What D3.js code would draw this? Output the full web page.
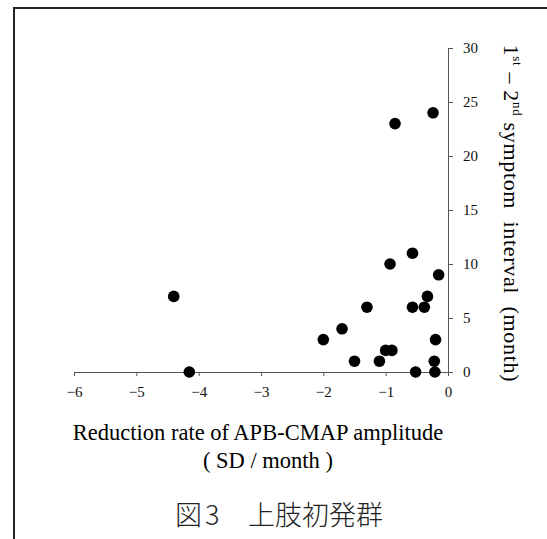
<!DOCTYPE html>
<html>
<head>
<meta charset="utf-8">
<script src="https://cdn.jsdelivr.net/npm/d3@7"></script>
<style>
  body { margin: 0; background: #fff; }
  svg { display: block; }
  .axis path, .axis line { stroke: #555; }
  .axis text { font-family: "Liberation Serif", "DejaVu Serif", serif; font-size: 15px; fill: #111; }
</style>
</head>
<body>
<div id="chart-area"></div>
<script>
// values
var rate = [-4.4, -4.15, -2.0, -1.7, -1.5, -1.3, -1.1, -1.0, -0.9, -0.93, -0.85, -0.57, -0.57, -0.38, -0.33, -0.15, -0.2, -0.22, -0.21, -0.52, -0.24];
var interval = [7, 0, 3, 4, 1, 6, 1, 2, 2, 10, 23, 11, 6, 6, 7, 9, 3, 1, 0, 0, 24];
var xTicks = [-6, -5, -4, -3, -2, -1, 0];
var yTicks = [0, 5, 10, 15, 20, 25, 30];

var width = 547, height = 539;
var svg = d3.select("#chart-area").append("svg")
    .attr("width", width)
    .attr("height", height);

// scanned frame (top + left edge)
svg.append("path")
    .attr("d", "M14,539 L14,8 L547,8")
    .attr("fill", "none")
    .attr("stroke", "#222")
    .attr("stroke-width", 2);

var x = d3.scaleLinear().domain([-6, 0]).range([74, 448]);
var y = d3.scaleLinear().domain([0, 30]).range([372, 48]);

svg.append("g")
    .attr("class", "axis")
    .attr("transform", "translate(0,372)")
    .call(d3.axisBottom(x).tickValues(xTicks).tickFormat(d3.format("d"))
        .tickSize(4).tickSizeOuter(0).tickPadding(10));

svg.append("g")
    .attr("class", "axis")
    .attr("transform", "translate(448,0)")
    .call(d3.axisRight(y).tickValues(yTicks).tickSize(5).tickSizeOuter(0).tickPadding(10));

var pts = rate.map(function(d, i) { return {x: d, y: interval[i]}; });
svg.selectAll("circle.pt")
    .data(pts)
    .enter().append("circle")
    .attr("class", "pt")
    .attr("cx", function(d) { return x(d.x); })
    .attr("cy", function(d) { return y(d.y); })
    .attr("r", 5.8)
    .attr("fill", "#000");

var serif = "'Liberation Serif', 'DejaVu Serif', serif";

svg.append("text")
    .attr("x", 258).attr("y", 440)
    .attr("text-anchor", "middle")
    .attr("font-family", serif).attr("font-size", "22.5px")
    .text("Reduction rate of APB-CMAP amplitude");

svg.append("text")
    .attr("x", 268).attr("y", 468)
    .attr("text-anchor", "middle")
    .attr("font-family", serif).attr("font-size", "22.5px")
    .text("( SD / month )");

// rotated y title
var yt = svg.append("text")
    .attr("transform", "translate(504,213) rotate(90)")
    .attr("text-anchor", "middle")
    .attr("textLength", 337)
    .attr("lengthAdjust", "spacing")
    .style("white-space", "pre")
    .attr("font-family", serif).attr("font-size", "22px");
yt.append("tspan").text("1");
yt.append("tspan").attr("font-size", "13px").attr("dy", -9).text("st");
yt.append("tspan").attr("dy", 9).text(" \u2013 2");
yt.append("tspan").attr("font-size", "13px").attr("dy", -9).text("nd");
yt.append("tspan").attr("dy", 9).text(" symptom  interval  (month)");

var cap = svg.append("text")
    .attr("y", 525)
    .attr("font-family", "'Noto Sans CJK JP', sans-serif")
    .attr("font-weight", 300)
    .attr("font-size", "27px")
    .attr("fill", "#222");
cap.append("tspan").attr("x", 175).text("図");
cap.append("tspan").attr("x", 205).text("3");
cap.append("tspan").attr("x", 248).text("上肢初発群");
</script>
</body>
</html>
